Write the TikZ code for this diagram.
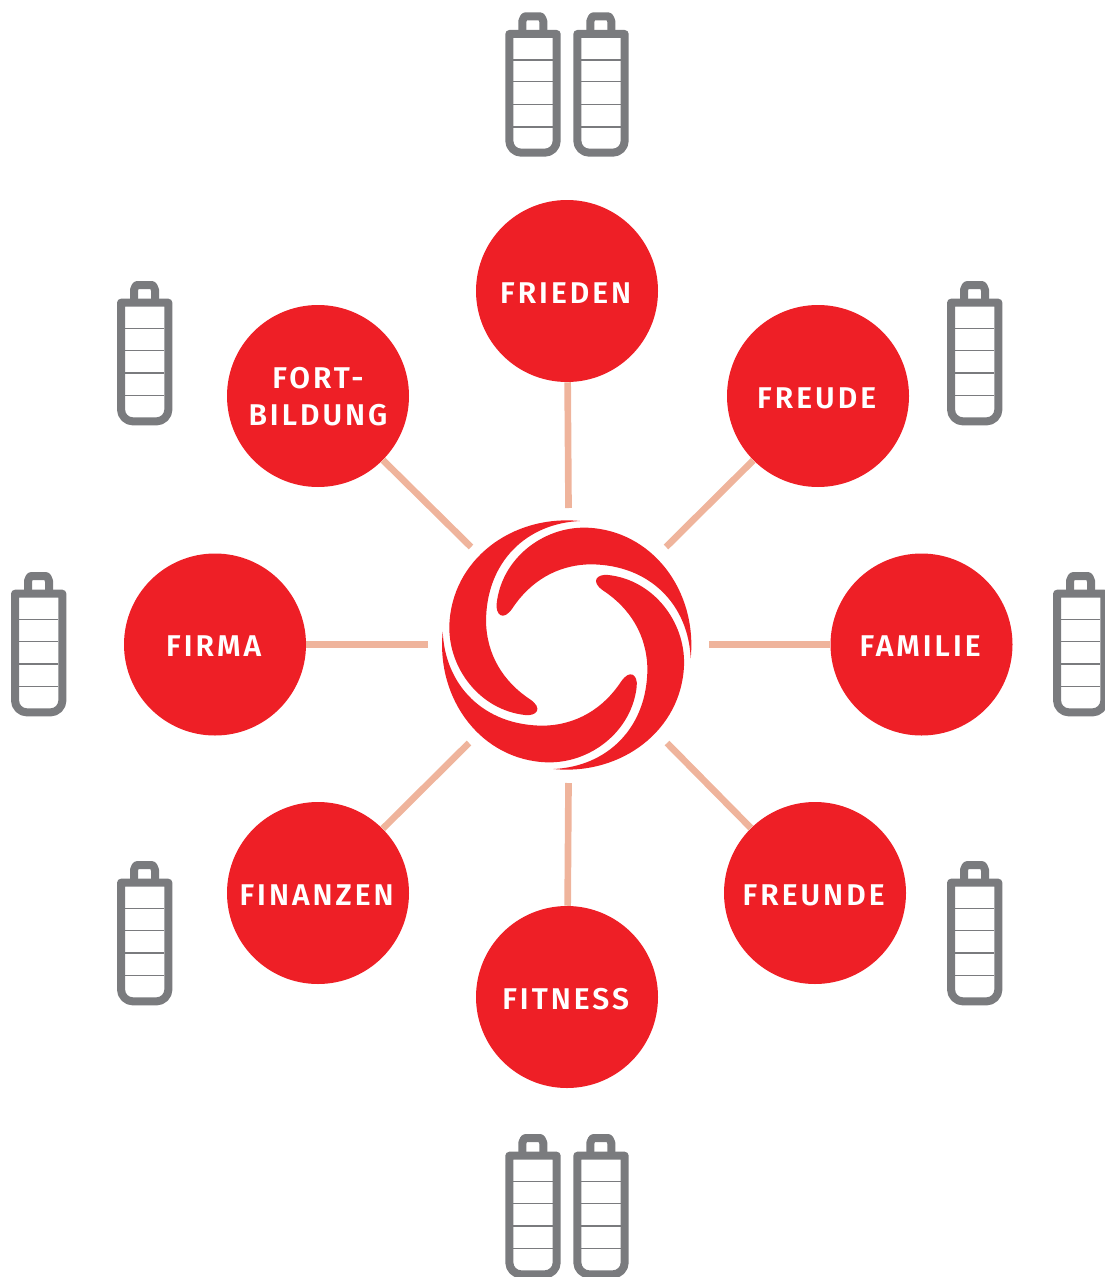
\documentclass[tikz,border=0pt]{standalone}
\usepackage{fontspec}
\newfontfamily\lab[LetterSpace=10,BoldFont={Fira Sans SemiBold}]{Fira Sans}
\definecolor{brandred}{HTML}{EE1F26}
\definecolor{linkc}{HTML}{EFB49C}
\definecolor{battc}{HTML}{7A7B7E}
\newcommand{\onelbl}[1]{\rule{0pt}{18.5pt}#1\hspace*{2pt}}
\tikzset{
  x=0.75pt,y=-0.75pt,
  hub/.style={circle,fill=brandred,minimum size=136.5pt,inner sep=0pt,text=white,align=center,font=\lab\bfseries\fontsize{22.5pt}{28pt}\selectfont},
  link/.style={draw=linkc,line width=5pt},
  shell/.style={draw=battc,line width=6pt,line join=round},
  tick/.style={draw=battc,line width=1pt},
  battery/.pic={
    \draw[shell] (17,4.3) -- (17,-9.2) to[out=-90,in=180] (20,-13.7) -- (35,-13.7) to[out=0,in=-90] (38,-9.2) -- (38,4.3);
    \draw[shell] (4,4) -- (51.4,4) -- (51.4,110.7) arc[start angle=0,end angle=90,radius=12] -- (16,122.7) arc[start angle=90,end angle=180,radius=12] -- cycle;
    \foreach \ty in {30,51.7,74.3,97} \draw[tick] (8,\ty) -- (47.4,\ty);
  },
}
\begin{document}
\begin{tikzpicture}
\useasboundingbox (0,0) rectangle (1105,1277);
% connectors' free ends
\coordinate (eN) at (568.5,508);
\coordinate (eS) at (568.5,783);
\coordinate (eW) at (428,644.5);
\coordinate (eE) at (709,644.5);
\coordinate (eNW) at (471,547);
\coordinate (eNE) at (666,547);
\coordinate (eSW) at (469,743);
\coordinate (eSE) at (667,743);
% hubs
\node[hub] (frieden) at (567,291) {\onelbl{FRIEDEN}};
\node[hub] (fort) at (318,396) {\rule{0pt}{17pt}FORT-\\BILDUNG};
\node[hub] (freude) at (818,396) {\onelbl{FREUDE}};
\node[hub] (firma) at (215,644.5) {\onelbl{FIRMA}};
\node[hub] (familie) at (921.5,644.5) {\onelbl{FAMILIE}};
\node[hub] (finanzen) at (318,893) {\onelbl{FINANZEN}};
\node[hub] (freunde) at (815,893) {\onelbl{FREUNDE}};
\node[hub] (fitness) at (567,997) {\onelbl{FITNESS}};
% connectors
\draw[link] (frieden) -- (eN);
\draw[link] (fitness) -- (eS);
\draw[link] (firma) -- (eW);
\draw[link] (familie) -- (eE);
\draw[link] (fort) -- (eNW);
\draw[link] (freude) -- (eNE);
\draw[link] (finanzen) -- (eSW);
\draw[link] (freunde) -- (eSE);
% swirl logo: four copies of one blade
\foreach \a in {0,90,180,270}{
\begin{scope}[shift={(566.7,645)},rotate=\a,x=0.25pt,y=-0.25pt]
\fill[brandred] (40,-372)
  .. controls (-165,-392) and (-345,-255) .. (-352,-60)
  .. controls (-356,70) and (-260,195) .. (-125,210)
  .. controls (-90,214) and (-70,190) .. (-110,163)
  .. controls (-190,110) and (-240,30) .. (-242,-70)
  .. controls (-242,-250) and (-120,-365) .. (40,-372) -- cycle;
\end{scope}}
% batteries
\foreach \bx/\by in {505.3/30,573.3/30,117/298.7,947/298.7,11/589.7,1053/589.7,117/878.7,947/878.7,505.3/1151.7,573.3/1151.7}
  \pic at (\bx,\by) {battery};
\end{tikzpicture}
\end{document}
